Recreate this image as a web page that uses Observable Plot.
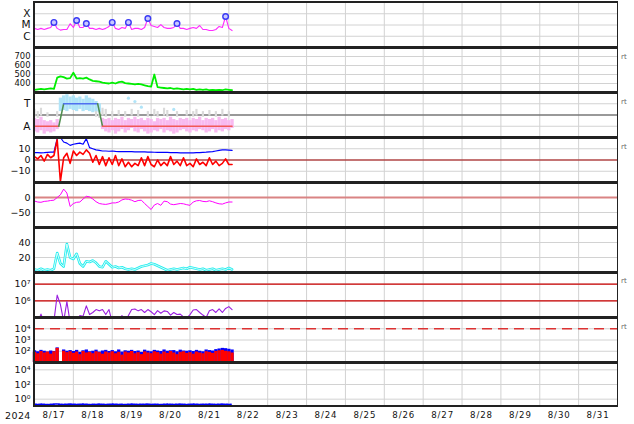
<!DOCTYPE html>
<html><head><meta charset="utf-8">
<script src="https://cdn.jsdelivr.net/npm/d3@7"></script>
<script src="https://cdn.jsdelivr.net/npm/@observablehq/plot@0.6"></script>
<style>
body{margin:0;background:#fff;}
#chart{position:relative;width:634px;height:424px;font-family:"DejaVu Sans",sans-serif;overflow:hidden;}
#chart svg{position:absolute;left:0;overflow:visible;background:transparent;}
#chart g[aria-label="x-axis tick label"]{letter-spacing:0.9px;}
.bar{position:absolute;background:#222;}
.rt{position:absolute;left:621px;font-size:7px;color:#666;line-height:8px;}
.yr{position:absolute;left:5px;top:410px;font-size:9.5px;color:#111;letter-spacing:0.4px;}
</style></head><body><div id="chart"></div>
<script>
// ---------- data (hours since 2024-08-17 00:00) ----------
const hours = [0,2,4,6,8,10,12,14,16,18,20,22,24,26,28,30,32,34,36,38,40,42,44,46,48,50,52,54,56,58,60,62,64,66,68,70,72,74,76,78,80,82,84,86,88,90,92,94,96,98,100,102,104,106,108,110,112,114,116,118,120,122];
const dayLabels = ["8/17","8/18","8/19","8/20","8/21","8/22","8/23","8/24","8/25","8/26","8/27","8/28","8/29","8/30","8/31"];

// Panel 1: X-ray flux
const xray = [5e-6,4e-6,5e-6,4e-6,5e-6,6e-6,1.7e-5,5e-6,3.5e-6,4e-6,4e-6,1.3e-5,
  6e-6,2.5e-5,6e-6,6e-6,1.35e-5,5e-6,5e-6,4e-6,5e-6,4e-6,5e-6,7.4e-6,
  1.7e-5,5e-6,4e-6,6e-6,5e-6,1.7e-5,4e-6,5e-6,5e-6,4e-6,6e-6,3.8e-5,
  9e-6,7.4e-6,6e-6,1.1e-5,6e-6,5e-6,5e-6,6e-6,1.35e-5,5e-6,5e-6,4e-6,
  5e-6,6e-6,5e-6,9e-6,4e-6,4e-6,3.2e-6,3.2e-6,4e-6,7.4e-6,6e-6,5.7e-5,
  5e-6,3.2e-6];
const flareHours = [12,26,32,48,58,70,88,118];
const flareFlux = [1.7e-5,2.5e-5,1.35e-5,1.7e-5,1.7e-5,3.8e-5,1.35e-5,5.7e-5];
const xrayTicks = [1e-4,1e-5,1e-6];
const xrayTickLabels = ["X","M","C"];

// Panel 2: solar wind speed
const speed = [330,335,340,335,340,345,340,465,480,470,455,460,
  520,455,460,455,465,445,430,425,420,410,405,400,
  410,400,415,420,405,400,395,390,395,390,380,370,
  365,500,360,355,350,345,350,340,345,340,335,340,
  335,340,330,335,330,335,325,330,325,330,325,335,
  330,325];
const speedTicks = [400,500,600,700];

// Panel 3: IMF sector (T / A)
const sectorHours = [0,15,18,39,42,122];
const sectorLevel = [-1,-1,1,1,-1,-1];
const sectorColors = ["#f25858","#4f8f4f","#5070f0","#4f8f4f","#f25858"];
const obsLo = [-1.5,-1.6,-1.4,-1.7,-1.5,-1.6,-1.5,-1.3,
  0.3,0.4,0.3,0.5,0.4,0.3,0.5,0.3,0.4,0.3,0.2,0.3,0.2,
  -1.3,-1.5,-1.6,-1.4,-1.7,-1.5,-1.3,-1.6,-1.4,-1.2,-1.5,-1.6,-1.3,-1.5,-1.7,-1.6,-1.4,-1.5,-1.3,-1.6,
  -1.4,-1.5,-1.7,-1.6,-1.4,-1.3,-1.5,-1.6,-1.4,-1.5,-1.3,-1.4,-1.6,-1.5,-1.3,-1.6,-1.4,-1.5,-1.3,-1.4,-1.2];
const obsHi = [-0.3,-0.4,-0.2,-0.5,-0.6,-0.5,-0.7,-0.4,
  1.5,1.7,1.8,1.6,1.7,1.5,1.6,1.4,1.7,1.5,1.4,1.2,1.0,
  -0.3,-0.4,-0.3,-0.5,-0.3,-0.4,-0.2,-0.5,-0.3,-0.4,-0.2,-0.4,-0.3,-0.5,-0.3,-0.4,-0.6,-0.3,-0.4,-0.3,
  -0.5,-0.2,-0.4,-0.5,-0.3,-0.4,-0.3,-0.5,-0.3,-0.4,-0.2,-0.5,-0.3,-0.4,-0.3,-0.5,-0.2,-0.4,-0.3,-0.5,-0.4];
const mixLo = [-0.2,-0.3,-0.1,null,-0.2,null,null,-0.2,
  null,null,null,null,null,null,null,null,null,null,null,-0.2,-0.3,
  -0.1,-0.2,null,-0.2,null,-0.1,null,-0.2,null,-0.1,null,-0.2,null,null,-0.2,null,-0.1,-0.2,null,-0.1,
  -0.2,null,null,-0.2,null,null,-0.1,null,-0.2,-0.1,null,-0.2,null,-0.1,null,-0.2,null,-0.1,null,-0.2,null];
const mixHi = [0.5,0.3,0.6,null,0.2,null,null,0.3,
  null,null,null,null,null,null,null,null,null,null,null,0.4,0.5,
  0.6,0.5,null,0.3,null,0.4,null,0.3,null,0.5,null,0.4,null,null,0.3,null,0.5,0.3,null,0.6,
  0.4,null,null,0.3,null,null,0.4,null,0.3,0.5,null,0.3,null,0.4,null,0.3,null,0.5,null,0.3,null];
const towardDotHours = [58,62,66,86];
const towardDotLevel = [1.5,1.2,0.7,0.5];

// Panel 4: IMF Bt / Bz
const bt = [6.5,6.5,6.3,6.5,6.8,7,7,19,20,16,15,13,
  14,14.5,15,14,19,11,10,9,8.5,8,8,7.8,
  8,7.6,7.5,7.5,7.4,7.5,7.4,7.3,7.3,7.2,7.2,7,
  7,6.9,6.8,6.8,6.7,6.7,6.6,6.5,6.5,6.4,6.4,6.3,
  6.3,6.4,6.5,6.6,6.8,7,7.3,7.5,8,8.5,9,9,
  8.8,8.5];
const bz = [3,1,4,-1,5,2,4,18,-19,2,6,-3,
  8,4,7,5,9,6,-2,4,-4,3,-5,2,
  -4,4,-5,1,-6,-2,-6,-3,-5,2,-5,3,
  -4,-6,0,-5,-2,-5,3,-4,-1,-5,2,-5,
  -3,-6,1,-4,-2,-5,2,-4,-1,-5,-3,1,
  -4,-4];
const bTicks = [10,0,-10];

// Panel 5: Dst
const dst = [-12,-15,-16,-13,-12,-10,-9,0,9,28,15,-30,
  -20,-16,-15,-5,4,2,-5,-14,-20,-22,-23,-21,
  -18,-18,-15,-8,-5,-6,-9,-14,-10,-9,-20,-30,
  -40,-25,-20,-26,-12,-14,-22,-24,-22,-20,-21,-24,
  -26,-15,-11,-10,-13,-14,-11,-14,-18,-21,-22,-18,
  -15,-15];
const dstTicks = [0,-50];

// Panel 6: density
const dens = [4,3,5,3,4,3,5,26,12,8,38,20,
  18,25,12,8,15,14,16,13,8,7,15,11,
  7,8,6,7,5,4,5,4,6,8,9,10,
  12,11,9,7,5,3,4,5,4,5,6,5,
  7,6,5,4,5,3,4,5,3,4,5,4,
  6,4];
const densTicks = [20,40];

// Panel 7: electron flux
const elec = [4e4,5e4,1.6e5,5e4,4e4,5e4,6e4,2.2e6,6e5,6e4,9e5,5e4,
  4e4,5e4,1.3e5,1.2e5,5e5,1.5e5,2e5,3e5,2.5e5,3e5,1.5e5,3e5,
  5e4,6e4,5e4,1.3e5,5e4,1.3e5,3e5,3.2e5,2.5e5,3e5,2e5,3e5,
  2.2e5,1.5e5,2.6e5,1.8e5,2.5e5,2.3e5,1.4e5,2e5,1.5e5,1.6e5,1.1e5,9e4,
  1.5e5,2.8e5,3e5,2e5,1.4e5,1e5,2.5e5,3e5,2e5,3.3e5,2e5,3.5e5,
  4.5e5,3e5];
const elecTicks = [1e6,1e7];
const elecTickLabels = ["10⁶","10⁷"];

// Panel 8: proton flux
const protonHigh = [110,90,120,100,85,105,95,200,null,130,100,115,
  95,120,80,110,130,90,100,125,85,105,120,95,
  115,90,130,85,110,100,120,95,105,80,125,100,
  90,120,105,95,130,100,110,115,90,125,105,100,
  110,95,120,100,90,130,115,105,140,160,180,170,
  150,130];
const protonLow = [80,60,95,70,85,55,90,180,null,100,75,90,
  65,85,50,95,70,80,60,90,75,55,85,70,
  90,60,80,45,85,70,95,60,75,50,88,70,
  60,90,75,55,85,65,95,70,50,80,90,65,
  75,55,85,70,60,90,80,65,95,110,120,100,
  90,70];
const protonTicks = [1e2,1e3,1e4];
const protonTickLabels = ["10²","10³","10⁴"];

// Panel 9
const p9 = [0.2,0.19,0.21,0.2,0.18,0.2,0.21,0.22,0.2,0.19,0.2,0.21,
  0.2,0.19,0.2,0.21,0.2,0.18,0.2,0.19,0.21,0.2,0.19,0.2,
  0.21,0.2,0.19,0.2,0.18,0.2,0.21,0.2,0.19,0.2,0.2,0.21,
  0.19,0.2,0.2,0.18,0.2,0.21,0.2,0.19,0.2,0.21,0.2,0.19,
  0.2,0.21,0.2,0.19,0.2,0.2,0.21,0.2,0.19,0.2,0.21,0.2,
  0.19,0.2];
const p9Ticks = [1,1e2,1e4];
const p9TickLabels = ["10⁰","10²","10⁴"];

// ---------- helpers ----------
const chart = document.getElementById("chart");
const tops = [2,47,92,137,182,227,272,317,362,406];
const rows = (a) => hours.map((h,i) => ({h, v: a[i]}));
const dayLines = dayLabels.map((_, i) => 24 * i).filter(d => d > 0);
const dayMid = dayLabels.map((_, i) => 24 * i + 12);
const GRID = "#d2d2d2";

function panel(i, yopt, ticks, labels, marks, extra = {}) {
  const h = tops[i + 1] - tops[i];
  const lab = labels ? new Map(ticks.map((t, k) => [t, labels[k]])) : null;
  const svg = Plot.plot({
    width: 634, height: h + (extra.bottom || 0),
    marginLeft: 34, marginRight: 17, marginTop: 0, marginBottom: extra.bottom || 0,
    style: {fontFamily: "DejaVu Sans", fontSize: "9px", background: "transparent", overflow: "visible", color: "#111"},
    x: {domain: [0, 360], axis: extra.xaxis ? undefined : null, label: null},
    y: {...yopt, label: null},
    marks: [
      Plot.gridX(dayLines, {stroke: GRID, strokeOpacity: 1}),
      Plot.gridY(ticks, {stroke: GRID, strokeOpacity: 1}),
      ...marks,
      Plot.axisY(ticks, {tickSize: 0, tickPadding: 4, label: null, fontSize: extra.yfont || 9.5,
        tickFormat: lab ? (d => lab.get(d)) : (d => d < 0 ? "\u2212" + (-d) : String(d))}),
      ...(extra.xaxis ? [Plot.axisX(dayMid, {tickSize: 0, tickPadding: 5, label: null, fontSize: 8.6,
        tickFormat: d => dayLabels[dayMid.indexOf(d)]})] : [])
    ]
  });
  svg.style.top = tops[i] + "px";
  chart.appendChild(svg);
}

// Panel 1
panel(0, {type: "log", domain: [1e-7, 1e-3]}, xrayTicks, xrayTickLabels, [
  Plot.line(rows(xray), {x: "h", y: "v", stroke: "#ff2bff", strokeWidth: 1.1, clip: true}),
  Plot.dot(flareHours.map((h, k) => ({h, v: flareFlux[k]})), {x: "h", y: "v", r: 2.8, stroke: "#3a3af5", fill: "#c8c8ff", strokeWidth: 1.4})
], {yfont: 10.5});

// Panel 2
panel(1, {domain: [300, 800]}, speedTicks, null, [
  Plot.line(rows(speed), {x: "h", y: "v", stroke: "#00ee00", strokeWidth: 1.8, clip: true})
], {yfont: 8.4});

// Panel 3
const obsRows = hours.map((h, k) => ({h, lo: obsLo[k], hi: obsHi[k]}));
const mixRows = hours.map((h, k) => ({h, lo: mixLo[k], hi: mixHi[k]})).filter(d => d.lo != null);
const segRows = sectorColors.flatMap((c, k) => [
  {h: sectorHours[k], v: sectorLevel[k], s: k, c},
  {h: sectorHours[k + 1], v: sectorLevel[k + 1], s: k, c}]);
panel(2, {domain: [-2, 2]}, [1, -1], ["T", "A"], [
  Plot.ruleY([0], {stroke: "#777", strokeWidth: 1.5}),
  Plot.ruleX(mixRows, {x: "h", y1: "lo", y2: "hi", stroke: "#dadada", strokeWidth: 2.2}),
  Plot.ruleX(obsRows, {x: "h", y1: "lo", y2: "hi", stroke: d => d.hi > 0 ? "#b0e4f8" : "#f8baf0", strokeWidth: 3.3}),
  Plot.dot(towardDotHours.map((h, k) => ({h, v: towardDotLevel[k]})), {x: "h", y: "v", r: 1.6, fill: "#b0e4f8", stroke: "none"}),
  Plot.line(segRows, {x: "h", y: "v", z: "s", stroke: "c", strokeWidth: 1.5})
], {yfont: 10.5});

// Panel 4
panel(3, {domain: [-20, 20]}, bTicks, null, [
  Plot.ruleY([0], {stroke: "#a00000", strokeWidth: 1.2}),
  Plot.line(rows(bt), {x: "h", y: "v", stroke: "#0000ff", strokeWidth: 1.2, clip: true}),
  Plot.line(rows(bz), {x: "h", y: "v", stroke: "#ff0000", strokeWidth: 1.6, clip: true})
]);

// Panel 5
panel(4, {domain: [-100, 50]}, dstTicks, null, [
  Plot.ruleY([0], {stroke: "#d98484", strokeWidth: 2}),
  Plot.line(rows(dst), {x: "h", y: "v", stroke: "#ff00ff", strokeWidth: 1, clip: true})
]);

// Panel 6
panel(5, {domain: [0, 60]}, densTicks, null, [
  Plot.line(rows(dens), {x: "h", y: "v", stroke: "#22eeee", strokeWidth: 2.6, clip: true}),
  Plot.line(rows(dens), {x: "h", y: "v", stroke: "#ffffff", strokeWidth: 0.8, clip: true})
]);

// Panel 7
panel(6, {type: "log", domain: [1e5, 5e7]}, elecTicks, elecTickLabels, [
  Plot.ruleY([1e6, 1e7], {stroke: "#cc0000", strokeWidth: 1.2}),
  Plot.line(rows(elec), {x: "h", y: "v", stroke: "#9a1ee0", strokeWidth: 1.1, clip: true})
]);

// Panel 8
const protRows = hours.map((h, k) => ({h, hi: protonHigh[k], lo: protonLow[k]}));
panel(7, {type: "log", domain: [10, 1e5]}, protonTicks, protonTickLabels, [
  Plot.ruleY([1e4], {stroke: "#dd3333", strokeWidth: 1.5, strokeDasharray: "10,6"}),
  Plot.ruleX(protRows.filter(d => d.hi != null), {x: "h", y1: 10, y2: "hi", stroke: "#0000ff", strokeWidth: 3.3}),
  Plot.ruleX(protRows.filter(d => d.lo != null), {x: "h", y1: 10, y2: "lo", stroke: "#ff0000", strokeWidth: 3.3})
]);

// Panel 9 (with date axis)
panel(8, {type: "log", domain: [0.1, 1e5]}, p9Ticks, p9TickLabels, [
  Plot.line(rows(p9), {x: "h", y: "v", stroke: "#0000ff", strokeWidth: 1.6, strokeDasharray: "2,1", clip: true})
], {xaxis: true, bottom: 18});

// frame lines
function bar(l, t, w, h) { const d = document.createElement("div"); d.className = "bar";
  Object.assign(d.style, {left: l + "px", top: t + "px", width: w + "px", height: h + "px"}); chart.appendChild(d); }
bar(33, 1, 585, 2);
[47, 92, 137, 182, 227, 272, 317, 362].forEach(y => bar(33, y - 1.5, 585, 3));
bar(33, 405, 585, 2);
bar(32.5, 1, 2, 406);
bar(616.5, 1, 1.5, 406);

// side labels
[57, 102, 147, 281, 327].forEach(y => { const d = document.createElement("div"); d.className = "rt";
  d.style.top = (y - 4) + "px"; d.textContent = "rt"; chart.appendChild(d); });
const yr = document.createElement("div"); yr.className = "yr"; yr.textContent = "2024"; chart.appendChild(yr);
</script></body></html>
